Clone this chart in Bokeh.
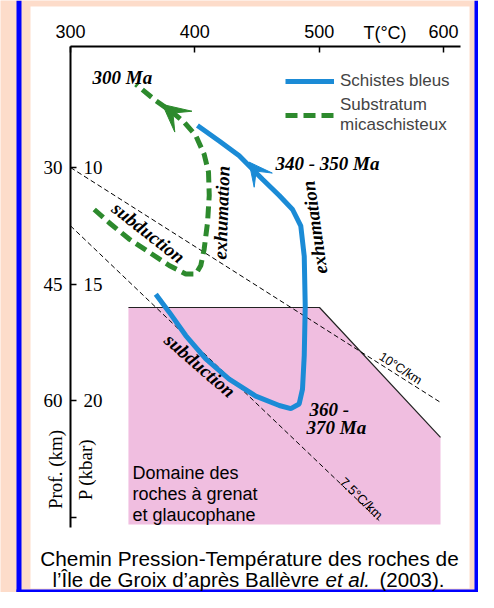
import math
from bokeh.plotting import figure
from bokeh.models import (Range1d, LinearAxis, FixedTicker, Label, BoxAnnotation,
                          Arrow, VeeHead, Legend, LegendItem)
from bokeh.embed import file_html
from bokeh.resources import INLINE

# ---------------- data ----------------
temp_ticks = [300, 400, 500, 600]
depth_ticks = [30, 45, 60, 75]
depth_tick_labels = ["30", "45", "60", ""]
kbar_tick_labels = ["10", "15", "20", ""]

# Schistes bleus P-T path (T in degC, depth in km)
blue_T = [368.6, 379.4, 392.7, 408.8, 427.6, 449.0, 467.9, 477.2, 483.9, 486.6,
          488.0, 488.8, 488.0, 485.2, 478.6, 467.9, 454.4, 435.7, 419.6, 402.1]
blue_depth = [46.3, 48.6, 51.6, 54.6, 57.2, 59.4, 60.6, 61.0, 60.4, 58.5,
              54.2, 47.8, 41.4, 37.5, 35.4, 33.6, 31.5, 28.5, 26.6, 24.6]
blue_arrow_T = [454.4, 443.6]
blue_arrow_depth = [31.5, 29.3]

# Substratum micaschisteux P-T path
green_T = [319.1, 331.1, 347.2, 363.3, 379.4, 392.7, 400.8, 404.8, 407.5, 410.2,
           411.6, 411.0, 407.5, 400.8, 391.5, 382.0, 368.6, 352.5]
green_depth = [35.4, 37.1, 39.2, 40.9, 42.6, 43.7, 43.7, 42.6, 40.5, 37.1,
               33.6, 30.6, 28.3, 25.9, 24.2, 22.9, 21.4, 19.3]
green_arrow_T = [391.5, 374.0]
green_arrow_depth = [24.2, 21.9]

# Domaine des roches a grenat et glaucophane
domain_T = [346.6, 500.3, 597.6, 597.6, 346.6]
domain_depth = [48.0, 48.0, 64.7, 75.9, 75.9]

# geotherms
geo10_T = [300.0, 597.6]
geo10_depth = [30.0, 60.2]
geo75_T = [300.0, 548.3]
geo75_depth = [37.5, 75.4]

# ---------------- styles ----------------
BLUE = "#1b8bd6"
GREEN = "#2d8a2d"
PINK = "#f0bee0"
PEACH = "#fddcca"
FRAME_BLUE = "#0000ff"
SANS = "Liberation Sans"
SERIF = "Liberation Serif"


def tx(px):
    """reference-picture x pixel -> temperature"""
    return 300 + (px - 78) * 100 / 124.33


def dy(py):
    """reference-picture y pixel -> depth"""
    return 30 + (py - 175) * 15 / 116.67


p = figure(width=478, height=592, output_backend="svg", toolbar_location=None,
           x_range=Range1d(tx(8), tx(486)), y_range=Range1d(dy(600), dy(8)),
           x_axis_location=None, y_axis_location=None, min_border=0,
           outline_line_color=None)
p.grid.visible = False
p.background_fill_color = PEACH
p.border_fill_color = PEACH

# page decoration
p.add_layout(BoxAnnotation(left=tx(38), right=tx(477), top=dy(14), bottom=dy(596),
                           fill_color="white", fill_alpha=1, line_alpha=0, level="underlay"))
p.add_layout(BoxAnnotation(left=tx(24), right=tx(29), top=dy(8), bottom=dy(600),
                           fill_color=FRAME_BLUE, fill_alpha=1, line_alpha=0, level="underlay"))
p.add_layout(BoxAnnotation(left=tx(482), right=tx(486), top=dy(8), bottom=dy(600),
                           fill_color=FRAME_BLUE, fill_alpha=1, line_alpha=0, level="underlay"))
p.add_layout(BoxAnnotation(left=tx(24), right=tx(486), top=dy(597), bottom=dy(600),
                           fill_color=FRAME_BLUE, fill_alpha=1, line_alpha=0, level="underlay"))

# domain
p.patch(domain_T, domain_depth, fill_color=PINK, line_alpha=0)
p.line(domain_T[:3], domain_depth[:3], line_color="#222222", line_width=1.2)

# geotherms
p.line(geo10_T, geo10_depth, line_color="black", line_width=1, line_dash="5 3")
p.line(geo75_T, geo75_depth, line_color="black", line_width=1, line_dash="5 3")

# paths
r_green = p.line(green_T, green_depth, line_color=GREEN, line_width=5, line_dash="12 6")
r_blue = p.line(blue_T, blue_depth, line_color=BLUE, line_width=5)

p.add_layout(Arrow(x_start=blue_arrow_T[0], y_start=blue_arrow_depth[0],
                   x_end=blue_arrow_T[1], y_end=blue_arrow_depth[1],
                   line_alpha=0,
                   end=VeeHead(size=23, fill_color=BLUE, line_color=BLUE, line_width=1)))
p.add_layout(Arrow(x_start=green_arrow_T[0], y_start=green_arrow_depth[0],
                   x_end=green_arrow_T[1], y_end=green_arrow_depth[1],
                   line_alpha=0,
                   end=VeeHead(size=27, fill_color=GREEN, line_color=GREEN, line_width=1)))

# axes
xax = LinearAxis(fixed_location=dy(54), bounds=(300, tx(468)),
                 ticker=FixedTicker(ticks=temp_ticks),
                 axis_line_width=2, axis_line_color="black",
                 major_tick_in=6, major_tick_out=0, minor_tick_in=0, minor_tick_out=0,
                 major_tick_line_width=1.5,
                 major_label_text_font=SANS, major_label_text_font_size="18px",
                 major_label_text_color="black", major_label_standoff=9)
p.add_layout(xax, "above")

yax = LinearAxis(fixed_location=300, bounds=(dy(54), dy(535)),
                 ticker=FixedTicker(ticks=depth_ticks),
                 major_label_overrides=dict(zip(depth_ticks, depth_tick_labels)),
                 axis_line_width=2, axis_line_color="black",
                 major_tick_in=6, major_tick_out=0, minor_tick_in=0, minor_tick_out=0,
                 major_tick_line_width=1.5,
                 major_label_text_font=SERIF, major_label_text_font_size="19px",
                 major_label_text_color="black", major_label_standoff=8)
p.add_layout(yax, "left")

pax = LinearAxis(fixed_location=300, bounds=(dy(54), dy(535)),
                 ticker=FixedTicker(ticks=depth_ticks),
                 major_label_overrides=dict(zip(depth_ticks, kbar_tick_labels)),
                 axis_line_alpha=0, major_tick_line_alpha=0,
                 major_tick_in=0, major_tick_out=0, minor_tick_in=0, minor_tick_out=0,
                 major_label_text_font=SERIF, major_label_text_font_size="19px",
                 major_label_text_color="black", major_label_standoff=-32)
p.add_layout(pax, "left")


def lab(text, px, py, size, font=SANS, style="normal", align="left",
        baseline="alphabetic", angle=0.0):
    p.add_layout(Label(x=tx(px), y=dy(py), text=text, text_font=font,
                       text_font_size=size, text_font_style=style,
                       text_align=align, text_baseline=baseline,
                       angle=math.radians(angle), text_color="black"))


lab("T(°C)", 392.5, 40, "18px", align="center")
lab("Prof. (km)", 62.5, 477, "19px", font=SERIF, align="center", baseline="middle", angle=90)
lab("P (kbar)", 92.5, 477, "19px", font=SERIF, align="center", baseline="middle", angle=90)

BI = "bold italic"
lab("300 Ma", 100, 85, "19px", font=SERIF, style=BI)
lab("340 - 350 Ma", 283, 170.5, "19px", font=SERIF, style=BI)
lab("360 -", 317, 417, "19px", font=SERIF, style=BI)
lab("370 Ma", 314, 435, "19px", font=SERIF, style=BI)
lab("subduction", 156, 240, "19px", font=SERIF, style=BI, align="center", baseline="middle", angle=-38)
lab("subduction", 207.5, 373, "19px", font=SERIF, style=BI, align="center", baseline="middle", angle=-41)
lab("exhumation", 229, 220, "19px", font=SERIF, style=BI, align="center", baseline="middle", angle=88)
lab("exhumation", 322, 235, "19px", font=SERIF, style=BI, align="center", baseline="middle", angle=98)
lab("10°C/km", 408, 376, "12.5px", align="center", baseline="middle", angle=-33)
lab("7.5°C/km", 369, 506, "13px", align="center", baseline="middle", angle=-44)

lab("Domaine des", 140, 480, "18px")
lab("roches à grenat", 140, 501, "18px")
lab("et glaucophane", 140, 522, "18px")

lab("Chemin Pression-Température des roches de", 257, 566, "20.8px", align="center")
lab("l’Île de Groix d’après Ballèvre", 60, 587, "20.5px")
lab("et al.", 333, 587, "20.5px", style="italic")
lab("(2003).", 387, 587, "20.5px")

legend = Legend(items=[LegendItem(label="Schistes bleus", renderers=[r_blue]),
                       LegendItem(label="Substratum\nmicaschisteux", renderers=[r_green])],
                location=(285, 457), padding=0, margin=0, spacing=4,
                glyph_width=49, glyph_height=20, label_height=20, label_standoff=6,
                label_text_font=SANS, label_text_font_size="17px",
                border_line_alpha=0, background_fill_alpha=0)
p.add_layout(legend)

open("out.html", "w").write(file_html(p, INLINE))
